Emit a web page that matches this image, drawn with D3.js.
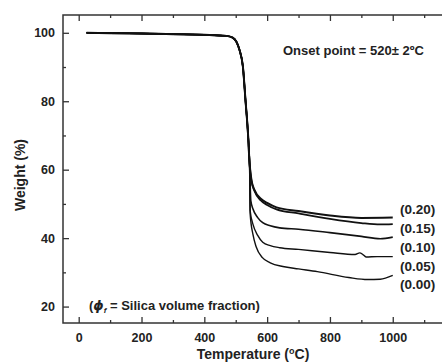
<!DOCTYPE html>
<html>
<head>
<meta charset="utf-8">
<script src="https://cdn.jsdelivr.net/npm/d3@7"></script>
<style>
  body { margin: 0; background: #fff; }
  text { font-family: "Liberation Sans", Arial, sans-serif; font-weight: bold; fill: #222; }
</style>
</head>
<body>
<svg id="chart"></svg>
<script>
// shared part of every curve (before the curves split)
const common = [[25,100],[100,99.9],[200,99.8],[300,99.6],[400,99.4],[470,99.1],[490,98.6],
  [502,97.4],[512,95],[523,90],[531,80.4],[539,70.6],[544,62]];

const tail20 = [[550,57],[560,54],[580,51.5],[600,50.3],[630,49],[700,47.9],[800,46.6],[900,45.9],[1000,46]];
const tail15 = [[550,56.8],[560,53.7],[580,51],[600,49.7],[630,48.4],[700,47.2],[800,45.6],[900,44.4],[960,44],[1000,44.1]];
const tail10 = [[548,51],[555,48.5],[570,46],[586,44.5],[610,43.6],[640,43],[700,42.6],[800,41.6],[900,40.5],[960,39.8],[1000,40.3]];
const tail05 = [[546,48],[555,44],[570,40.8],[586,38.8],[610,37.8],[640,37.2],[700,36.7],[800,35.8],[880,35.2],[895,35.7],[905,35.2],[915,34.5],[950,34.6],[1000,34.6]];
const tail00 = [[546,47],[555,41],[565,37.5],[585,34.3],[610,32.8],[650,31.7],[700,31],[760,30.2],[860,28.5],[920,27.9],[960,28],[1000,29.1]];

const seriesLabels = ["(0.20)", "(0.15)", "(0.10)", "(0.05)", "(0.00)"];
const labelValues = [48.5, 43, 37.4, 31.9, 26.5];
const tails = [tail20, tail15, tail10, tail05, tail00];
const lineWidths = [2, 1.8, 1.6, 1.4, 1.4];

const xMajor = [0, 200, 400, 600, 800, 1000];
const xMinor = [100, 300, 500, 700, 900, 1100];
const yMajor = [20, 40, 60, 80, 100];
const yMinor = [30, 50, 70, 90];

const width = 442, height = 363;
const svg = d3.select("#chart").attr("width", width).attr("height", height);

const x = d3.scaleLinear().domain([-50, 1160]).range([63, 443]);
const y = d3.scaleLinear().domain([15.2, 105.2]).range([323, 15]);

// frame
svg.append("rect")
  .attr("x", x(-50)).attr("y", y(105.2))
  .attr("width", x(1160) - x(-50)).attr("height", y(15.2) - y(105.2))
  .attr("fill", "none").attr("stroke", "#333").attr("stroke-width", 1.5);

function styleTicks(g) {
  g.select(".domain").remove();
  g.selectAll("line").attr("stroke", "#333").attr("stroke-width", 1.3);
  g.selectAll("text").attr("font-size", 12.5).attr("fill", "#222").attr("font-family", null);
}

// bottom axis, ticks inward
svg.append("g").attr("transform", `translate(0,${y(15.2)})`)
  .call(d3.axisBottom(x).tickValues(xMajor).tickSizeInner(-6).tickSizeOuter(0).tickPadding(10).tickFormat(d3.format("d")))
  .call(styleTicks);
svg.append("g").attr("transform", `translate(0,${y(15.2)})`)
  .call(d3.axisBottom(x).tickValues(xMinor).tickSizeInner(-3).tickSizeOuter(0).tickFormat(""))
  .call(styleTicks);

// top axis, ticks inward
svg.append("g").attr("transform", `translate(0,${y(105.2)})`)
  .call(d3.axisTop(x).tickValues(xMajor).tickSizeInner(-6).tickSizeOuter(0).tickFormat(""))
  .call(styleTicks);
svg.append("g").attr("transform", `translate(0,${y(105.2)})`)
  .call(d3.axisTop(x).tickValues(xMinor).tickSizeInner(-3).tickSizeOuter(0).tickFormat(""))
  .call(styleTicks);

// left axis, ticks inward
svg.append("g").attr("transform", `translate(${x(-50)},0)`)
  .call(d3.axisLeft(y).tickValues(yMajor).tickSizeInner(-6).tickSizeOuter(0).tickPadding(8))
  .call(styleTicks);
svg.append("g").attr("transform", `translate(${x(-50)},0)`)
  .call(d3.axisLeft(y).tickValues(yMinor).tickSizeInner(-3).tickSizeOuter(0).tickFormat(""))
  .call(styleTicks);

// curves
const line = d3.line().x(d => x(d[0])).y(d => y(d[1])).curve(d3.curveMonotoneX);
tails.forEach((t, i) => {
  svg.append("path")
    .datum(common.concat(t))
    .attr("fill", "none")
    .attr("stroke", "#111")
    .attr("stroke-width", lineWidths[i])
    .attr("d", line);
});

// series labels
svg.selectAll(".slabel").data(seriesLabels).join("text")
  .attr("class", "slabel")
  .attr("x", 400)
  .attr("y", (d, i) => y(labelValues[i]))
  .attr("dy", "0.35em")
  .attr("font-size", 13.5)
  .text(d => d);

// annotations
svg.append("text").attr("x", 283).attr("y", 55).attr("font-size", 13)
  .text("Onset point = 520\u00b1 2\u00baC");

const phi = svg.append("text").attr("x", 89).attr("y", 310).attr("font-size", 13);
phi.append("tspan").text("(");
phi.append("tspan").attr("font-style", "italic").attr("font-family", "DejaVu Sans").text("\u03d5");
phi.append("tspan").attr("font-style", "italic").attr("font-size", 8).attr("dy", 3).text("f");
phi.append("tspan").attr("dy", -3).text(" = Silica volume fraction)");

// axis titles
const xt = svg.append("text").attr("x", 253).attr("y", 359).attr("text-anchor", "middle").attr("font-size", 14);
xt.append("tspan").text("Temperature (");
xt.append("tspan").attr("font-size", 9).attr("dy", -5).text("o");
xt.append("tspan").attr("dy", 5).text("C)");

svg.append("text")
  .attr("transform", `translate(25,175) rotate(-90)`)
  .attr("text-anchor", "middle").attr("font-size", 14)
  .text("Weight (%)");
</script>
</body>
</html>
